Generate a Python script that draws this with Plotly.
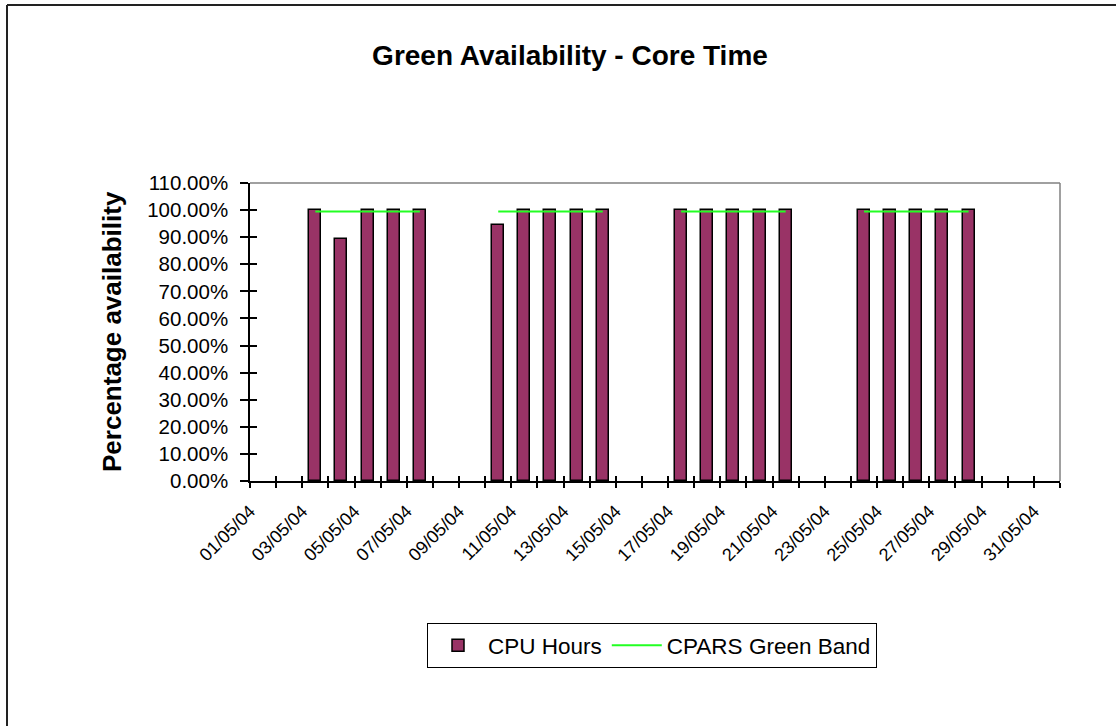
import plotly.graph_objects as go

# ---- data ----
dates = ["2004-05-%02d" % d for d in range(1, 32)]
cpu_hours = [None, None, 1.0, 0.895, 1.0, 1.0, 1.0,
             None, None, 0.945, 1.0, 1.0, 1.0, 1.0,
             None, None, 1.0, 1.0, 1.0, 1.0, 1.0,
             None, None, 1.0, 1.0, 1.0, 1.0, 1.0,
             None, None, None]
green_band = [None, None, 0.995, 0.995, 0.995, 0.995, 0.995,
              None, None, 0.995, 0.995, 0.995, 0.995, 0.995,
              None, None, 0.995, 0.995, 0.995, 0.995, 0.995,
              None, None, 0.995, 0.995, 0.995, 0.995, 0.995,
              None, None, None]

DAY = 86400000
W, H = 1116, 726
L, R, T, B = 250, 1060, 183, 481
FONT = "Liberation Sans, Arial, sans-serif"


def px(x):
    return (x - L) / (R - L)


def py(y):
    return (B - y) / (B - T)


fig = go.Figure()
fig.add_trace(go.Bar(
    x=dates, y=cpu_hours, name="CPU Hours",
    xperiod=DAY, xperiodalignment="middle", width=0.46 * DAY,
    marker=dict(color="#993366", line=dict(color="black", width=1.5)),
))
fig.add_trace(go.Scatter(
    x=dates, y=green_band, name="CPARS Green Band", mode="lines",
    xperiod=DAY, xperiodalignment="middle",
    line=dict(color="#22FF22", width=2), connectgaps=False,
))

shapes = [
    # plot area border (top/right, grey)
    dict(type="line", xref="paper", yref="paper", x0=0, x1=1, y0=1, y1=1,
         line=dict(color="#808080", width=1.5)),
    dict(type="line", xref="paper", yref="paper", x0=1, x1=1, y0=0, y1=1,
         line=dict(color="#808080", width=1.5)),
    # chart outer frame
    dict(type="line", xref="paper", yref="paper", x0=px(7), x1=px(1120), y0=py(5), y1=py(5),
         line=dict(color="#222222", width=2)),
    dict(type="line", xref="paper", yref="paper", x0=px(7), x1=px(7), y0=py(5), y1=py(730),
         line=dict(color="#222222", width=2)),
]

fig.update_layout(
    width=W, height=H,
    margin=dict(l=L, r=W - R, t=T, b=H - B, pad=0),
    paper_bgcolor="white", plot_bgcolor="white",
    font=dict(family=FONT, color="black"),
    showlegend=True,
    title=dict(text="<b>Green Availability - Core Time</b>", x=570 / W, xanchor="center",
               xref="container", y=1 - 55 / H, yanchor="middle", yref="container",
               font=dict(size=28, family=FONT, color="black")),
    bargap=0,
    xaxis=dict(
        type="date", range=["2004-05-01", "2004-06-01"],
        tick0="2004-05-01", dtick=2 * DAY, tickformat="%d/%m/%y",
        tickangle=-45, tickfont=dict(size=18), ticklabelstandoff=6,
        ticks="outside", ticklen=5, tickcolor="black", tickwidth=1.5,
        minor=dict(dtick=DAY, ticks="outside", ticklen=5, tickcolor="black", tickwidth=1.5,
                   showgrid=False),
        showline=True, linecolor="black", linewidth=1.5,
        showgrid=False, zeroline=False, fixedrange=True,
    ),
    xaxis2=dict(
        type="date", overlaying="x", matches="x", anchor="y", side="bottom",
        tick0="2004-05-01", dtick=DAY, ticks="inside", ticklen=5, tickcolor="black",
        tickwidth=1.5, showticklabels=False, showgrid=False, showline=False, zeroline=False,
    ),
    yaxis=dict(
        range=[0, 1.1], dtick=0.1, tickformat=".2%", tickfont=dict(size=20.5),
        ticklabelstandoff=8,
        ticks="outside", ticklen=8, tickcolor="black", tickwidth=1.5,
        showline=True, linecolor="black", linewidth=1.5,
        showgrid=False, zeroline=False, fixedrange=True,
    ),
    yaxis2=dict(
        range=[0, 1.1], overlaying="y", matches="y", anchor="x", side="left",
        dtick=0.1, ticks="inside", ticklen=7, tickcolor="black", tickwidth=1.5,
        showticklabels=False, showgrid=False, showline=False, zeroline=False,
    ),
    legend=dict(
        orientation="h", x=px(427), y=py(623), xanchor="left", yanchor="top",
        bordercolor="black", borderwidth=1, bgcolor="white", itemwidth=50,
        font=dict(size=22.5, family=FONT, color="black"),
    ),
    shapes=shapes,
    annotations=[dict(
        text="<b>Percentage availability</b>", textangle=-90,
        xref="paper", yref="paper", x=px(112), y=0.5,
        xanchor="center", yanchor="middle", showarrow=False,
        font=dict(size=26, family=FONT, color="black"),
    )],
)

# invisible trace so overlay axes are rendered
fig.add_trace(go.Scatter(x=[dates[0]], y=[0], xaxis="x2", yaxis="y2", mode="markers",
                         marker=dict(opacity=0), showlegend=False, hoverinfo="skip"))

fig.write_html("out.html", config={"displayModeBar": False},
               post_script="document.body.style.margin='0';")
